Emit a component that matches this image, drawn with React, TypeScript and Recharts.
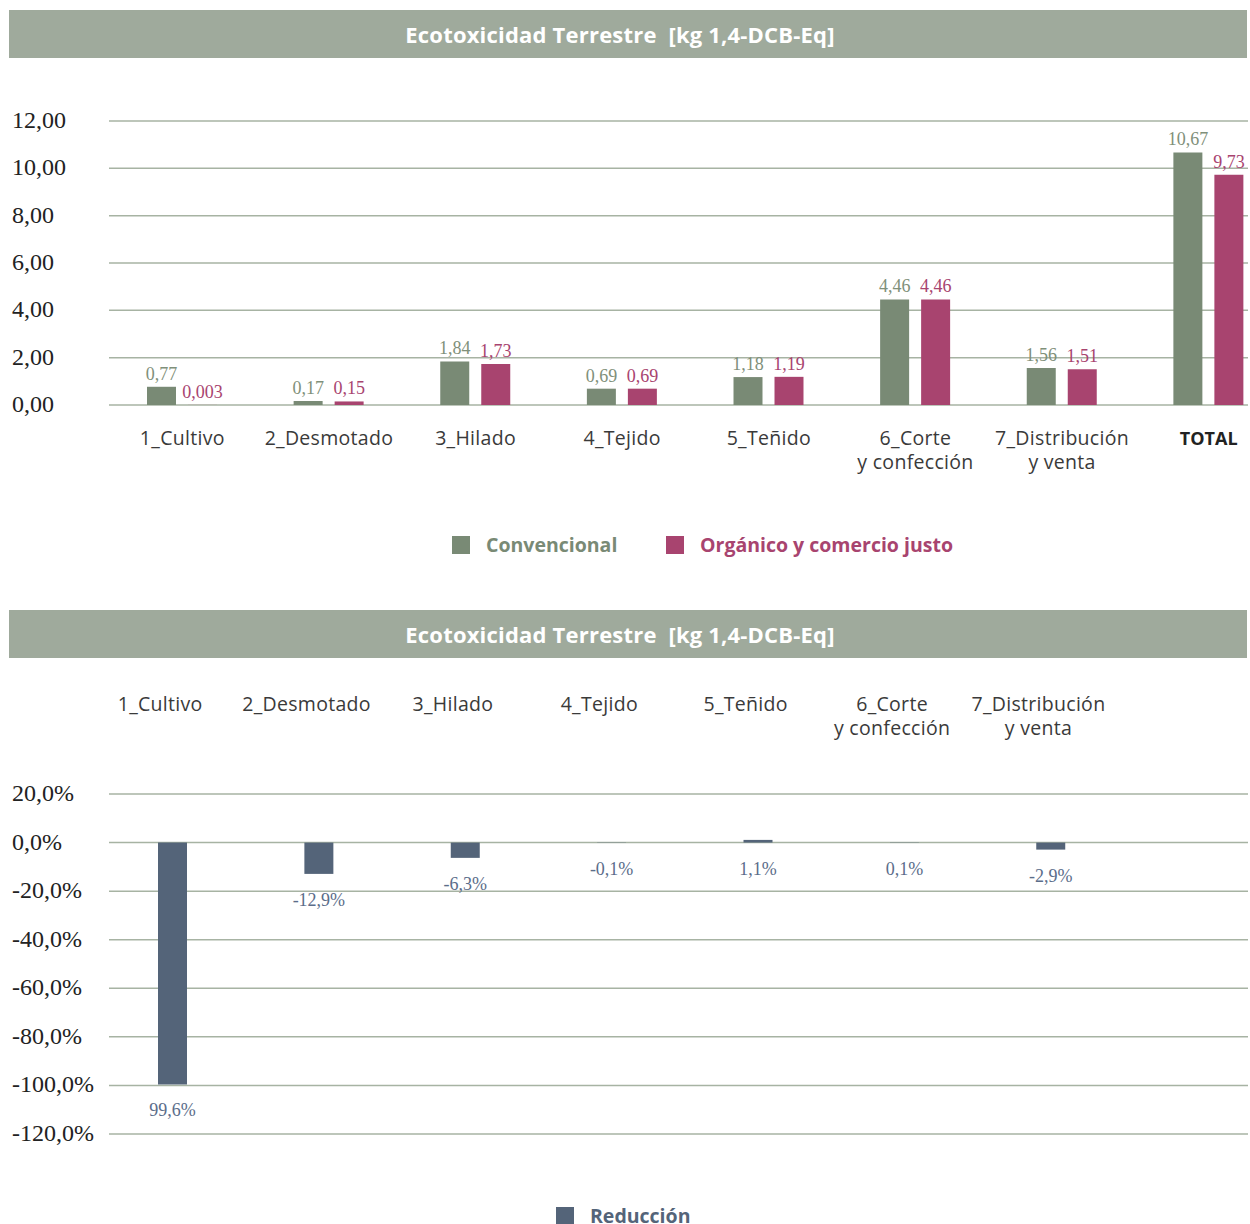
import React from "react";
import {
  BarChart,
  Bar,
  XAxis,
  YAxis,
  CartesianGrid,
  LabelList,
} from "recharts";

const categories = [
  "1_Cultivo",
  "2_Desmotado",
  "3_Hilado",
  "4_Tejido",
  "5_Teñido",
  "6_Corte\ny confección",
  "7_Distribución\ny venta",
  "TOTAL",
];
const convencional = [0.77, 0.17, 1.84, 0.69, 1.18, 4.46, 1.56, 10.67];
const organico = [0.003, 0.15, 1.73, 0.69, 1.19, 4.46, 1.51, 9.73];
const topTicks = [0, 2, 4, 6, 8, 10, 12];

const reduccion = [-99.6, -12.9, -6.3, -0.1, 1.1, 0.1, -2.9];
const reduccionText = ["99,6%", "-12,9%", "-6,3%", "-0,1%", "1,1%", "0,1%", "-2,9%"];
const bottomTicks = [20, 0, -20, -40, -60, -80, -100, -120];

const TITLE = "Ecotoxicidad Terrestre  [kg 1,4-DCB-Eq]";

const GREEN = "#798a75";
const PINK = "#a8446f";
const NAVY = "#546479";
const GRID = "#a7b3a3";
const SANS = '"Open Sans", "Noto Sans", sans-serif';
const SERIF = '"Liberation Serif", "DejaVu Serif", serif';

const topData = categories.map((c, i) => ({
  name: c,
  convencional: convencional[i],
  organico: organico[i],
}));

const bottomData = categories.map((c, i) => ({
  name: i < reduccion.length ? c : "",
  reduccion: i < reduccion.length ? reduccion[i] : null,
  text: reduccionText[i] ?? "",
}));

const fmt = (v: number) => String(v).replace(".", ",");

function YTick({ y, payload, pct }: any) {
  const label = pct
    ? `${payload.value.toFixed(1).replace(".", ",")}%`
    : payload.value.toFixed(2).replace(".", ",");
  return (
    <text
      x={4}
      y={y}
      dy={7}
      textAnchor="start"
      fontFamily={SERIF}
      fontSize={24}
      fill="#222"
    >
      {label}
    </text>
  );
}

function XTick({ x, y, payload, top }: any) {
  const lines = String(payload.value).split("\n");
  const bold = payload.value === "TOTAL";
  const startY = top ? y - 83 : y + 40;
  return (
    <text
      x={x}
      y={startY}
      textAnchor="middle"
      fontFamily={SANS}
      fontSize={bold ? 18 : 19.5}
      letterSpacing={bold ? 0 : 0.3}
      fontWeight={bold ? 700 : 400}
      fill={bold ? "#222" : "#3a3a3a"}
    >
      {lines.map((l, i) => (
        <tspan key={i} x={top ? x - 12 : x} dy={i === 0 ? 0 : 24}>
          {l}
        </tspan>
      ))}
    </text>
  );
}

function ReduccionLabel(props: any) {
  const vb = props.viewBox || props;
  const { index } = props;
  if (bottomData[index]?.reduccion == null) return null;
  const x = vb.x + vb.width / 2;
  const bottom = Math.max(vb.y, vb.y + vb.height);
  return (
    <text
      x={x}
      y={bottom + 26}
      dy={6}
      textAnchor="middle"
      fontFamily={SERIF}
      fontSize={18}
      fill="#5b6d8a"
    >
      {bottomData[index].text}
    </text>
  );
}

function Header({ top }: { top: number }) {
  return (
    <div
      style={{
        position: "absolute",
        left: 9,
        top,
        width: 1238,
        height: 48,
        background: "#9faa9c",
        color: "#fff",
        fontFamily: SANS,
        fontWeight: 700,
        fontSize: 22,
        letterSpacing: 0.2,
        display: "flex",
        alignItems: "center",
        justifyContent: "center",
        whiteSpace: "pre",
        paddingRight: 16,
        boxSizing: "border-box",
      }}
    >
      {TITLE}
    </div>
  );
}

function LegendItem({ color, label, left, top }: any) {
  return (
    <div
      style={{
        position: "absolute",
        left,
        top,
        display: "flex",
        alignItems: "center",
        fontFamily: SANS,
        fontWeight: 700,
        fontSize: 19.5,
        color,
        whiteSpace: "nowrap",
      }}
    >
      <span
        style={{
          display: "inline-block",
          width: 18,
          height: 18,
          background: color,
          marginRight: 16,
        }}
      />
      {label}
    </div>
  );
}

export default function App() {
  return (
    <div
      style={{
        position: "fixed",
        left: 0,
        top: 0,
        width: 1250,
        height: 1224,
        overflow: "hidden",
        background: "#fff",
      }}
    >
      <Header top={10} />
      <div style={{ position: "absolute", left: 8, top: 60 }}>
        <BarChart
          width={1242}
          height={425}
          data={topData}
          margin={{ top: 61, right: 2, left: 0, bottom: 0 }}
          barSize={29}
          barGap={12}
        >
          <CartesianGrid vertical={false} stroke={GRID} strokeWidth={1.5} />
          <XAxis
            dataKey="name"
            height={80}
            axisLine={false}
            tickLine={false}
            tickSize={0}
            tickMargin={0}
            interval={0}
            padding={{ left: 0, right: -34 }}
            tick={<XTick />}
          />
          <YAxis
            width={101}
            domain={[0, 12]}
            ticks={topTicks}
            axisLine={false}
            tickLine={false}
            tick={<YTick />}
          />
          <Bar dataKey="convencional" fill={GREEN} isAnimationActive={false}>
            <LabelList
              dataKey="convencional"
              position="top"
              offset={7}
              formatter={(v: any) => fmt(v)}
              style={{ fontFamily: SERIF, fontSize: 18, fill: "#7f907a" }}
            />
          </Bar>
          <Bar dataKey="organico" fill={PINK} isAnimationActive={false}>
            <LabelList
              dataKey="organico"
              position="top"
              offset={7}
              formatter={(v: any) => fmt(v)}
              style={{ fontFamily: SERIF, fontSize: 18, fill: PINK }}
            />
          </Bar>
        </BarChart>
      </div>
      <LegendItem color={GREEN} label="Convencional" left={452} top={531} />
      <LegendItem
        color={PINK}
        label="Orgánico y comercio justo"
        left={666}
        top={531}
      />

      <Header top={610} />
      <div style={{ position: "absolute", left: 8, top: 670 }}>
        <BarChart
          width={1242}
          height={480}
          data={bottomData}
          margin={{ top: 24, right: 2, left: 0, bottom: 16 }}
          barSize={29}
        >
          <CartesianGrid vertical={false} stroke={GRID} strokeWidth={1.5} />
          <XAxis
            dataKey="name"
            orientation="top"
            height={100}
            axisLine={false}
            tickLine={false}
            tickSize={0}
            tickMargin={0}
            interval={0}
            padding={{ left: -10, right: -22 }}
            tick={<XTick top />}
          />
          <YAxis
            width={101}
            domain={[-120, 20]}
            ticks={bottomTicks}
            axisLine={false}
            tickLine={false}
            tick={<YTick pct />}
          />
          <Bar dataKey="reduccion" fill={NAVY} isAnimationActive={false}>
            <LabelList dataKey="reduccion" content={<ReduccionLabel />} />
          </Bar>
        </BarChart>
      </div>
      <LegendItem color={NAVY} label="Reducción" left={556} top={1202} />
    </div>
  );
}
